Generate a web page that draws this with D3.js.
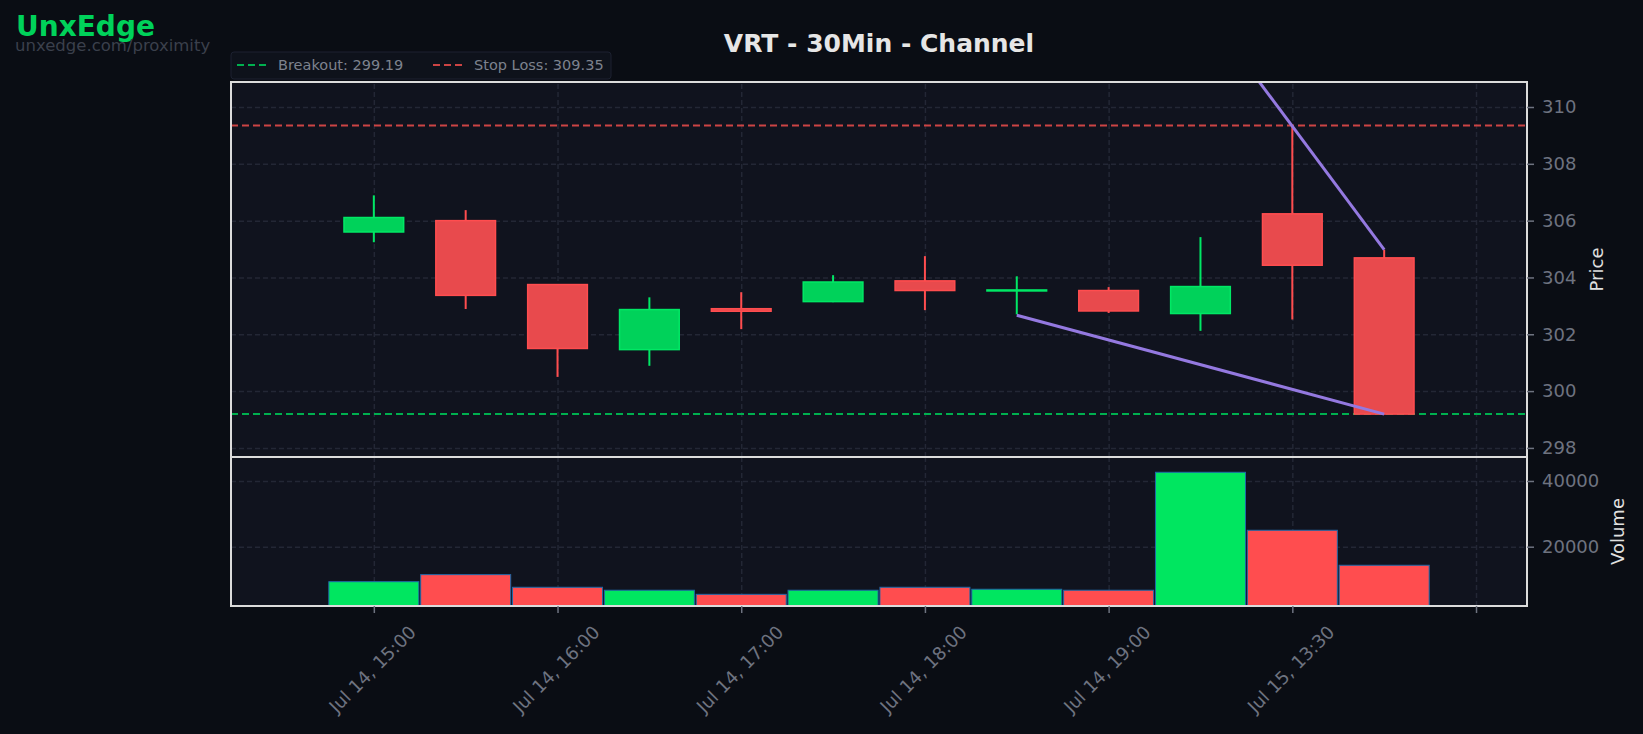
<!DOCTYPE html>
<html>
<head>
<meta charset="utf-8">
<script src="https://cdn.jsdelivr.net/npm/d3@7"></script>
<style>
  html, body { margin: 0; padding: 0; background: #0a0d14; }
  svg { display: block; font-family: "DejaVu Sans", sans-serif; }
</style>
</head>
<body>
<div id="chart"></div>
<script>
// 30 minute candles, index based x axis
const times = ['Jul 14, 15:00', 'Jul 14, 15:30', 'Jul 14, 16:00', 'Jul 14, 16:30',
    'Jul 14, 17:00', 'Jul 14, 17:30', 'Jul 14, 18:00', 'Jul 14, 18:30',
    'Jul 14, 19:00', 'Jul 14, 19:30', 'Jul 15, 13:30', 'Jul 15, 14:00'];
const opens  = [305.60, 306.00, 303.75, 301.46, 302.90, 303.15, 303.88, 303.54, 303.54, 302.73, 306.24, 304.69];
const highs  = [306.89, 306.37, 303.77, 303.30, 303.48, 304.08, 304.75, 304.04, 303.66, 305.42, 309.30, 304.98];
const lows   = [305.24, 302.89, 300.50, 300.89, 302.18, 303.13, 302.85, 302.70, 302.75, 302.12, 302.52, 299.19];
const closes = [306.11, 303.37, 301.50, 302.87, 302.81, 303.84, 303.54, 303.56, 302.82, 303.68, 304.43, 299.19];
const volumes = [9350, 11500, 7650, 6750, 5500, 6750, 7650, 7050, 6750, 42650, 25000, 14350];

const breakout = 299.19;
const stopLoss = 309.35;

// channel lines: [candle index, price]
const channelUpper = [[7, 322.34], [11, 304.98]];
const channelLower = [[7, 302.67], [11, 299.19]];

const tickIndex = [0, 2, 4, 6, 8, 10, 12];
const priceTicks = [298, 300, 302, 304, 306, 308, 310];
const volumeTicks = [20000, 40000];

const W = 1643, H = 734;
const plot = { left: 231, right: 1527, top: 82, mid: 457, bottom: 606 };

const colors = {
    up: '#00d25a', upEdge: '#00e865',
    down: '#e84a4d', downEdge: '#ff4d4f',
    volUp: '#00e660', volDown: '#ff4d4f',
    grid: '#232735', spine: '#dcdcdc', tick: '#6e7380',
    channel: '#9479e0'
};

const svg = d3.select('#chart').append('svg')
    .attr('width', W)
    .attr('height', H);

svg.append('rect').attr('width', W).attr('height', H).attr('fill', '#0a0d14');

const x = d3.scaleLinear().domain([-1.555, 12.555]).range([plot.left, plot.right]);
const yPrice = d3.scaleLinear().domain([297.68, 310.88]).range([plot.mid, plot.top]);
const yVol = d3.scaleLinear().domain([1950, 47300]).range([plot.bottom, plot.mid]);
const step = x(1) - x(0);

// clip paths
const defs = svg.append('defs');
defs.append('clipPath').attr('id', 'clip-price').append('rect')
    .attr('x', plot.left).attr('y', plot.top)
    .attr('width', plot.right - plot.left).attr('height', plot.mid - plot.top);
defs.append('clipPath').attr('id', 'clip-vol').append('rect')
    .attr('x', plot.left).attr('y', plot.mid)
    .attr('width', plot.right - plot.left).attr('height', plot.bottom - plot.mid);

// panel backgrounds
svg.append('rect').attr('x', plot.left).attr('y', plot.top)
    .attr('width', plot.right - plot.left).attr('height', plot.bottom - plot.top)
    .attr('fill', '#10131e');

// grid lines
const gridPrice = svg.append('g').attr('class', 'grid');
gridPrice.append('g')
    .attr('transform', `translate(0,${plot.mid})`)
    .call(d3.axisBottom(x).tickValues(tickIndex).tickSize(-(plot.mid - plot.top)).tickFormat(''));
gridPrice.append('g')
    .attr('transform', `translate(${plot.left},0)`)
    .call(d3.axisLeft(yPrice).tickValues(priceTicks).tickSize(-(plot.right - plot.left)).tickFormat(''));
const gridVol = svg.append('g').attr('class', 'grid');
gridVol.append('g')
    .attr('transform', `translate(0,${plot.bottom})`)
    .call(d3.axisBottom(x).tickValues(tickIndex).tickSize(-(plot.bottom - plot.mid)).tickFormat(''));
gridVol.append('g')
    .attr('transform', `translate(${plot.left},0)`)
    .call(d3.axisLeft(yVol).tickValues(volumeTicks).tickSize(-(plot.right - plot.left)).tickFormat(''));
svg.selectAll('.grid .domain').remove();
svg.selectAll('.grid line')
    .attr('stroke', colors.grid)
    .attr('stroke-width', 1.5)
    .attr('stroke-dasharray', '5,3');

// price panel
const gp = svg.append('g').attr('clip-path', 'url(#clip-price)');

// breakout / stop loss
gp.append('line')
    .attr('x1', plot.left).attr('x2', plot.right)
    .attr('y1', yPrice(stopLoss)).attr('y2', yPrice(stopLoss))
    .attr('stroke', '#cc4444').attr('stroke-width', 2).attr('stroke-dasharray', '7,4');
gp.append('line')
    .attr('x1', plot.left).attr('x2', plot.right)
    .attr('y1', yPrice(breakout)).attr('y2', yPrice(breakout))
    .attr('stroke', '#00b04f').attr('stroke-width', 2).attr('stroke-dasharray', '7,4');

const candles = times.map((t, i) => ({
    i, o: opens[i], h: highs[i], l: lows[i], c: closes[i], v: volumes[i]
}));
const bodyW = step * 0.65;

// wicks
gp.selectAll('.wick')
    .data(candles)
    .enter()
    .append('line')
    .attr('class', 'wick')
    .attr('x1', d => x(d.i)).attr('x2', d => x(d.i))
    .attr('y1', d => yPrice(d.h)).attr('y2', d => yPrice(d.l))
    .attr('stroke', d => d.c >= d.o ? colors.upEdge : colors.downEdge)
    .attr('stroke-width', 2);

// bodies
gp.selectAll('.body')
    .data(candles)
    .enter()
    .append('rect')
    .attr('class', 'body')
    .attr('x', d => x(d.i) - bodyW / 2)
    .attr('width', bodyW)
    .attr('y', d => yPrice(Math.max(d.o, d.c)))
    .attr('height', d => Math.max(1, Math.abs(yPrice(d.o) - yPrice(d.c))))
    .attr('fill', d => d.c >= d.o ? colors.up : colors.down)
    .attr('stroke', d => d.c >= d.o ? colors.upEdge : colors.downEdge)
    .attr('stroke-width', 1.5);

// channel lines
const line = d3.line().x(d => x(d[0])).y(d => yPrice(d[1]));
[channelUpper, channelLower].forEach(pts => {
    gp.append('path')
        .attr('d', line(pts))
        .attr('fill', 'none')
        .attr('stroke', colors.channel)
        .attr('stroke-width', 3);
});

// volume panel
const gv = svg.append('g').attr('clip-path', 'url(#clip-vol)');
const barW = step * 0.98;
gv.selectAll('.vol')
    .data(candles)
    .enter()
    .append('rect')
    .attr('class', 'vol')
    .attr('x', d => x(d.i) - barW / 2)
    .attr('width', barW)
    .attr('y', d => yVol(d.v))
    .attr('height', d => yVol(0) - yVol(d.v))
    .attr('fill', d => d.c >= d.o ? colors.volUp : colors.volDown)
    .attr('stroke', '#1f68a8')
    .attr('stroke-width', 1);

// spines
[[plot.top, plot.mid], [plot.mid, plot.bottom]].forEach(([t, b]) => {
    svg.append('rect')
        .attr('x', plot.left).attr('y', t)
        .attr('width', plot.right - plot.left).attr('height', b - t)
        .attr('fill', 'none')
        .attr('stroke', colors.spine)
        .attr('stroke-width', 2);
});

// right axes
function styleAxis(g) {
    g.select('.domain').remove();
    g.selectAll('.tick line').attr('stroke', colors.tick).attr('stroke-width', 1.5);
    g.selectAll('.tick text')
        .attr('fill', colors.tick)
        .style('font-size', '18px')
        .style('font-family', '"DejaVu Sans", sans-serif');
}

svg.append('g')
    .attr('transform', `translate(${plot.right},0)`)
    .call(d3.axisRight(yPrice).tickValues(priceTicks).tickSize(7).tickPadding(8).tickFormat(d3.format('d')))
    .call(styleAxis);

svg.append('g')
    .attr('transform', `translate(${plot.right},0)`)
    .call(d3.axisRight(yVol).tickValues(volumeTicks).tickSize(7).tickPadding(8).tickFormat(d3.format('d')))
    .call(styleAxis);

// bottom axis with rotated labels
const xAxis = svg.append('g')
    .attr('transform', `translate(0,${plot.bottom})`)
    .call(d3.axisBottom(x).tickValues(tickIndex).tickSize(7).tickFormat(i => times[i] || ''))
    .call(styleAxis);
xAxis.selectAll('.tick text')
    .attr('y', 0)
    .attr('dy', null)
    .attr('text-anchor', 'middle')
    .attr('dominant-baseline', 'central')
    .attr('transform', 'translate(-2,63) rotate(-45)');

// axis titles
svg.append('text')
    .attr('transform', `translate(1596,${(plot.top + plot.mid) / 2}) rotate(-90)`)
    .attr('text-anchor', 'middle')
    .attr('dominant-baseline', 'central')
    .style('font-size', '18px')
    .style('fill', '#e0e0e0')
    .text('Price');

svg.append('text')
    .attr('transform', `translate(1617,${(plot.mid + plot.bottom) / 2}) rotate(-90)`)
    .attr('text-anchor', 'middle')
    .attr('dominant-baseline', 'central')
    .style('font-size', '18px')
    .style('fill', '#e0e0e0')
    .text('Volume');

// title
svg.append('text')
    .attr('x', (plot.left + plot.right) / 2)
    .attr('y', 52)
    .attr('text-anchor', 'middle')
    .style('font-size', '25px')
    .style('font-weight', 'bold')
    .style('fill', '#e6e6e6')
    .text('VRT - 30Min - Channel');

// branding
svg.append('text')
    .attr('x', 16).attr('y', 36)
    .style('font-size', '28px')
    .style('font-weight', 'bold')
    .style('fill', '#00d25a')
    .text('UnxEdge');
svg.append('text')
    .attr('x', 15).attr('y', 51)
    .style('font-size', '16.5px')
    .style('fill', '#3b404c')
    .text('unxedge.com/proximity');

// legend
const legendData = [
    { label: `Breakout: ${breakout.toFixed(2)}`, color: '#00b04f', x: 237 },
    { label: `Stop Loss: ${stopLoss.toFixed(2)}`, color: '#cc4444', x: 433 }
];
const legend = svg.append('g').attr('class', 'legend');
legend.append('rect')
    .attr('x', 231).attr('y', 52)
    .attr('width', 380).attr('height', 27)
    .attr('rx', 3)
    .attr('fill', '#0e121b')
    .attr('stroke', '#1c2130')
    .attr('stroke-width', 1);
legendData.forEach(item => {
    legend.append('line')
        .attr('x1', item.x).attr('x2', item.x + 29)
        .attr('y1', 65).attr('y2', 65)
        .attr('stroke', item.color)
        .attr('stroke-width', 2)
        .attr('stroke-dasharray', '7,4');
    legend.append('text')
        .attr('x', item.x + 41)
        .attr('y', 65)
        .attr('dominant-baseline', 'central')
        .style('font-size', '14.5px')
        .style('fill', '#7d828e')
        .text(item.label);
});
</script>
</body>
</html>
